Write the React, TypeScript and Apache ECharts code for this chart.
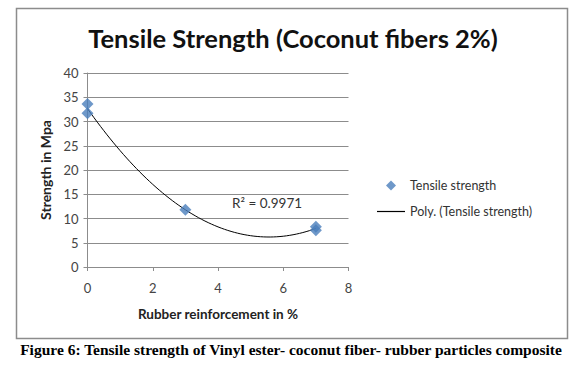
import React, { useEffect, useRef } from "react";
import * as echarts from "echarts";

const reinforcement = [0, 0, 3, 7, 7];
const strength = [33.6, 31.7, 11.8, 8.3, 7.6];
const xTicks = [0, 2, 4, 6, 8];
const yTicks = [0, 5, 10, 15, 20, 25, 30, 35, 40];
const rSquaredLabel = "R² = 0.9971";

// least-squares quadratic fit of the data (Excel "Poly." trendline, order 2)
function fitQuadratic(xs: number[], ys: number[]) {
  let s0 = 0, s1 = 0, s2 = 0, s3 = 0, s4 = 0, t0 = 0, t1 = 0, t2 = 0;
  xs.forEach((x, i) => {
    const y = ys[i];
    s0 += 1; s1 += x; s2 += x * x; s3 += x ** 3; s4 += x ** 4;
    t0 += y; t1 += x * y; t2 += x * x * y;
  });
  const m = [
    [s0, s1, s2, t0],
    [s1, s2, s3, t1],
    [s2, s3, s4, t2],
  ];
  for (let i = 0; i < 3; i++) {
    for (let k = i + 1; k < 3; k++) {
      const f = m[k][i] / m[i][i];
      for (let j = i; j < 4; j++) m[k][j] -= f * m[i][j];
    }
  }
  const c = [0, 0, 0];
  for (let i = 2; i >= 0; i--) {
    let s = m[i][3];
    for (let j = i + 1; j < 3; j++) s -= m[i][j] * c[j];
    c[i] = s / m[i][i];
  }
  return c; // c0 + c1 x + c2 x^2
}

export default function App() {
  const ref = useRef<HTMLDivElement>(null);
  useEffect(() => {
    document.body.style.margin = "0";
    const chart = echarts.init(ref.current!, null, { renderer: "svg" });
    const c = fitQuadratic(reinforcement, strength);
    const xmin = Math.min(...reinforcement);
    const xmax = Math.max(...reinforcement);
    const trend: number[][] = [];
    const steps = 70;
    for (let i = 0; i <= steps; i++) {
      const x = xmin + ((xmax - xmin) * i) / steps;
      trend.push([x, c[0] + c[1] * x + c[2] * x * x]);
    }
    const labelFont = "Lato, 'Open Sans', sans-serif";
    chart.setOption({
      animation: false,
      backgroundColor: "#ffffff",
      title: {
        text: "Tensile Strength (Coconut fibers 2%)",
        left: 288,
        textAlign: "center",
        top: 20,
        textStyle: {
          fontFamily: labelFont,
          fontWeight: "bold",
          fontSize: 25.5,
          color: "#111111",
        },
      },
      grid: { left: 87.5, right: 235.5, top: 73, height: 194 },
      xAxis: {
        type: "value",
        min: 0,
        max: 8,
        interval: 2,
        name: "Rubber reinforcement in %",
        nameLocation: "middle",
        nameGap: 40,
        nameTextStyle: { fontFamily: labelFont, fontWeight: "bold", fontSize: 13.5, color: "#222" },
        axisLine: { show: true, onZero: false, lineStyle: { color: "#8c8c8c" } },
        axisTick: { show: true, length: 4, inside: false, lineStyle: { color: "#8c8c8c" } },
        axisLabel: {
          fontFamily: labelFont,
          fontSize: 13,
          color: "#444",
          margin: 14,
          customValues: xTicks,
        },
        splitLine: { show: false },
      },
      yAxis: {
        type: "value",
        min: 0,
        max: 40,
        interval: 5,
        name: "Strength in Mpa",
        nameLocation: "middle",
        nameGap: 35,
        nameRotate: 90,
        nameTextStyle: { fontFamily: labelFont, fontWeight: "bold", fontSize: 14, color: "#222" },
        axisLine: { show: true, lineStyle: { color: "#8c8c8c" } },
        axisTick: { show: true, length: 4, lineStyle: { color: "#8c8c8c" } },
        axisLabel: { fontFamily: labelFont, fontSize: 13, color: "#444", margin: 9, customValues: yTicks },
        splitLine: { show: true, lineStyle: { color: "#8c8c8c", width: 1 } },
      },
      legend: [
        {
          orient: "vertical",
          left: 386,
          top: 179,
          padding: 0,
          itemWidth: 10,
          itemHeight: 10,
          textStyle: {
            fontFamily: labelFont,
            fontSize: 12.5,
            color: "#333",
            padding: [0, 0, 0, 9],
          },
          data: [{ name: "Tensile strength", icon: "diamond" }],
        },
        {
          orient: "vertical",
          left: 377,
          top: 205,
          padding: 0,
          itemWidth: 28,
          itemHeight: 1.2,
          textStyle: { fontFamily: labelFont, fontSize: 12.5, color: "#333" },
          data: [
            {
              name: "Poly. (Tensile strength)",
              icon: "rect",
              itemStyle: { color: "#000" },
            },
          ],
        },
      ],
      graphic: [
        {
          type: "rect",
          shape: { x: 16.5, y: 8.5, width: 551, height: 330 },
          style: { fill: "none", stroke: "#8c8c8c", lineWidth: 1.5 },
          z: 100,
        },
        {
          type: "text",
          x: 232,
          y: 203,
          style: {
            text: rSquaredLabel,
            fontFamily: labelFont,
            fontSize: 13.5,
            fill: "#333",
            verticalAlign: "middle",
          },
        },
        {
          type: "text",
          x: 291,
          y: 349,
          style: {
            text: "Figure 6: Tensile strength of Vinyl ester- coconut fiber- rubber particles composite",
            fontFamily: "'Liberation Serif', 'Times New Roman', serif",
            fontWeight: "bold",
            fontSize: 15.5,
            fill: "#000",
            align: "center",
            verticalAlign: "middle",
          },
        },
      ],
      series: [
        {
          name: "Poly. (Tensile strength)",
          type: "line",
          data: trend,
          showSymbol: false,
          symbol: "none",
          smooth: false,
          lineStyle: { color: "#000", width: 1 },
          itemStyle: { color: "#000" },
          z: 2,
        },
        {
          name: "Tensile strength",
          type: "scatter",
          data: reinforcement.map((x, i) => [x, strength[i]]),
          symbol: "diamond",
          symbolSize: 12,
          itemStyle: { color: "#4a7ebb" },
          z: 3,
        },
      ],
    });
    return () => chart.dispose();
  }, []);
  return (
    <div
      ref={ref}
      style={{ position: "fixed", left: 0, top: 0, width: 584, height: 375 }}
    />
  );
}
